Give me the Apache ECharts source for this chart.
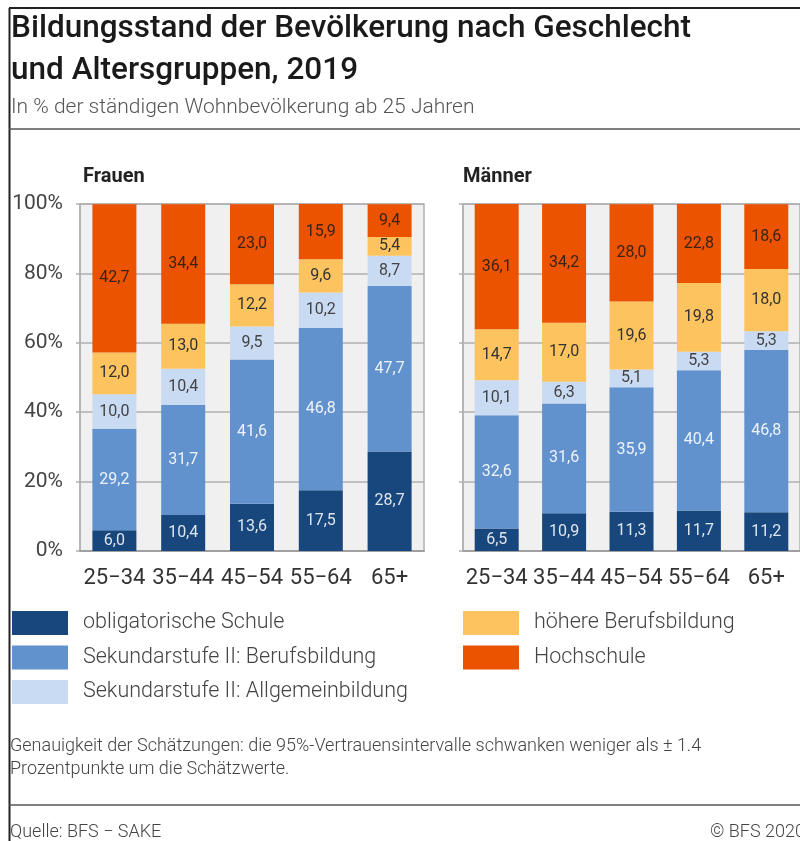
<!DOCTYPE html>
<html>
<head>
<meta charset="utf-8">
<script src="https://cdn.jsdelivr.net/npm/echarts@6/dist/echarts.min.js"></script>
<style>
  html, body { margin: 0; padding: 0; background: #fff; }
  #chart { width: 800px; height: 841px; }
</style>
</head>
<body>
<div id="chart"></div>
<script>
// Altersgruppen
var ages = ['25\u221234', '35\u221244', '45\u221254', '55\u221264', '65+'];

// Bildungsstufen (Legende) und Farben
var levels = ['obligatorische Schule', 'Sekundarstufe II: Berufsbildung', 'Sekundarstufe II: Allgemeinbildung', 'höhere Berufsbildung', 'Hochschule'];
var colors = ['#17477c', '#6292ce', '#c9daf3', '#fdc35f', '#ec5300'];
var labelColors = ['#dde5ee', '#eef3fa', '#444444', '#333333', '#3a2418'];

// Frauen, in %
var fObligatorisch = [6.0, 10.4, 13.6, 17.5, 28.7];
var fBerufsbildung = [29.2, 31.7, 41.6, 46.8, 47.7];
var fAllgemein     = [10.0, 10.4, 9.5, 10.2, 8.7];
var fHoehere       = [12.0, 13.0, 12.2, 9.6, 5.4];
var fHochschule    = [42.7, 34.4, 23.0, 15.9, 9.4];

// Männer, in %
var mObligatorisch = [6.5, 10.9, 11.3, 11.7, 11.2];
var mBerufsbildung = [32.6, 31.6, 35.9, 40.4, 46.8];
var mAllgemein     = [10.1, 6.3, 5.1, 5.3, 5.3];
var mHoehere       = [14.7, 17.0, 19.6, 19.8, 18.0];
var mHochschule    = [36.1, 34.2, 28.0, 22.8, 18.6];

var frauen = [fObligatorisch, fBerufsbildung, fAllgemein, fHoehere, fHochschule];
var maenner = [mObligatorisch, mBerufsbildung, mAllgemein, mHoehere, mHochschule];

var FONT = 'Roboto, "Noto Sans", sans-serif';

function komma(v) {
    return v.toFixed(1).replace('.', ',');
}

function makeSeries(sets, idx, stack) {
    return sets.map(function (vals, i) {
        return {
            name: levels[i],
            type: 'bar',
            stack: stack,
            xAxisIndex: idx,
            yAxisIndex: idx,
            barWidth: 44,
            data: vals,
            itemStyle: { color: colors[i] },
            label: {
                show: true,
                position: 'inside',
                fontFamily: FONT,
                fontSize: 16,
                color: labelColors[i],
                formatter: function (p) { return komma(p.value); }
            },
            emphasis: { disabled: true }
        };
    });
}

function yAx(idx, showLabels) {
    return {
        type: 'value',
        gridIndex: idx,
        min: 0,
        max: 100,
        interval: 20,
        axisLine: { show: true, lineStyle: { color: '#b0b0b0', width: 1.5 } },
        axisTick: { show: true, length: 4, lineStyle: { color: '#b0b0b0', width: 1.5 } },
        splitLine: { lineStyle: { color: '#b0b0b0', width: 1.5 } },
        axisLabel: {
            show: showLabels,
            formatter: '{value}%',
            fontFamily: FONT,
            fontSize: 21,
            color: '#444',
            margin: 17
        }
    };
}

function xAx(idx) {
    return {
        type: 'category',
        gridIndex: idx,
        data: ages,
        axisLine: { lineStyle: { color: '#a0a0a0', width: 2 } },
        axisTick: { show: false },
        axisLabel: { interval: 0, hideOverlap: false, fontFamily: FONT, fontSize: 22, color: '#333', margin: 16 }
    };
}

var myChart = echarts.init(document.getElementById('chart'));

myChart.setOption({
    backgroundColor: '#ffffff',
    animation: false,
    title: [
        {
            text: 'Bildungsstand der Bevölkerung nach Geschlecht\nund Altersgruppen, 2019',
            left: 6, top: 3,
            textStyle: { fontFamily: FONT, fontSize: 31.5, fontWeight: 500, color: '#1a1a1a', lineHeight: 42 }
        },
        {
            text: 'In % der ständigen Wohnbevölkerung ab 25 Jahren',
            left: 6, top: 92,
            textStyle: { fontFamily: FONT, fontSize: 21, fontWeight: 300, color: '#555' }
        },
        { text: 'Frauen', left: 78, top: 162, textStyle: { fontFamily: FONT, fontSize: 20, fontWeight: 'bold', color: '#222' } },
        { text: 'Männer', left: 458, top: 162, textStyle: { fontFamily: FONT, fontSize: 20, fontWeight: 'bold', color: '#222' } },
        {
            text: 'Genauigkeit der Schätzungen: die 95%-Vertrauensintervalle schwanken weniger als ± 1.4\nProzentpunkte um die Schätzwerte.',
            left: 5, top: 730,
            textStyle: { fontFamily: FONT, fontSize: 18, fontWeight: 300, color: '#444', lineHeight: 23 }
        },
        { text: 'Quelle: BFS \u2212 SAKE', left: 5, top: 818, textStyle: { fontFamily: FONT, fontSize: 18, fontWeight: 300, color: '#444' } },
        { text: '© BFS 2020', left: 705, top: 818, textStyle: { fontFamily: FONT, fontSize: 18, fontWeight: 300, color: '#444' } }
    ],
    legend: [
        {
            orient: 'vertical', left: 12, top: 611, padding: 0,
            itemWidth: 56, itemHeight: 24, itemGap: 10.5,
            icon: 'rect', selectedMode: false,
            data: levels.slice(0, 3),
            textStyle: { fontFamily: FONT, fontSize: 21.5, fontWeight: 300, color: '#444', padding: [2, 0, 0, 10] }
        },
        {
            orient: 'vertical', left: 463, top: 611, padding: 0,
            itemWidth: 56, itemHeight: 24, itemGap: 10.5,
            icon: 'rect', selectedMode: false,
            data: levels.slice(3),
            textStyle: { fontFamily: FONT, fontSize: 21.5, fontWeight: 300, color: '#444', padding: [2, 0, 0, 10] }
        }
    ],
    grid: [
        { left: 80, top: 204, width: 344, height: 347, show: true, backgroundColor: '#f0f0f0', borderColor: '#b0b0b0', borderWidth: 1.5 },
        { left: 463, top: 204, width: 344, height: 347, show: true, backgroundColor: '#f0f0f0', borderColor: '#b0b0b0', borderWidth: 1.5 }
    ],
    xAxis: [xAx(0), xAx(1)],
    yAxis: [yAx(0, true), yAx(1, false)],
    series: makeSeries(frauen, 0, 'f').concat(makeSeries(maenner, 1, 'm')),
    graphic: [
        { type: 'line', shape: { x1: 9, y1: 8, x2: 800, y2: 8 }, style: { stroke: '#222', lineWidth: 2 } },
        { type: 'line', shape: { x1: 9.5, y1: 8, x2: 9.5, y2: 841 }, style: { stroke: '#222', lineWidth: 2 } },
        { type: 'line', shape: { x1: 9, y1: 129, x2: 800, y2: 129 }, style: { stroke: '#555', lineWidth: 1.5 } },
        { type: 'line', shape: { x1: 9, y1: 805, x2: 800, y2: 805 }, style: { stroke: '#555', lineWidth: 1.5 } }
    ]
});
</script>
</body>
</html>
